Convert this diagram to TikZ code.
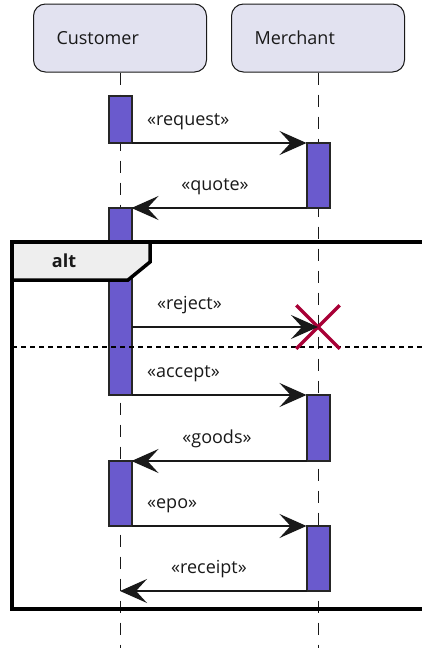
\documentclass[tikz,border=0pt]{standalone}
\usepackage{fontspec}
\setmainfont{Open Sans}
\usetikzlibrary{arrows.meta,shapes.misc}

\begin{document}
\begin{tikzpicture}
          [x = 1pt, y = -1pt,
           every node/.style = {font = \fontsize{18}{22}\selectfont, text = black!90},
           participant/.style = {draw = black!90, fill = partcolor, rounded corners = 12pt, line width = 1pt,
                                 text width = 127pt, inner xsep = 23pt, minimum height = 68pt, align = left},
           lifeline/.style = {draw = black!90, line width = 1pt, dash pattern = on 12pt off 10pt},
           activation/.style = {draw = black!85, fill = actcolor, line width = 2pt, minimum width = 23pt,
                                inner sep = 0pt, outer sep = 0pt},
           message/.style = {draw = black!90, line width = 1.6pt, -{Stealth[length = 27pt, width = 24pt, inset = 11pt]}},
           msglabel/.style = {inner sep = 0pt},
           frameline/.style = {draw = black, line width = 3.5pt},
           separator/.style = {draw = black, line width = 2pt, dash pattern = on 5pt off 4pt},
          ]

% Define diagram colors
\definecolor{partcolor}{HTML}{E2E2F0}
\definecolor{actcolor}{HTML}{6A5ACD}
\definecolor{tabcolor}{HTML}{EEEEEE}
\definecolor{destroycolor}{HTML}{A80036}

\useasboundingbox (0,0) rectangle (422,648);
\clip (0,0) rectangle (422,648);

% Participants and lifelines
  \node [participant] (customer) at (120,38) {Customer};
  \node [participant] (merchant) at (318,38) {Merchant};

  \coordinate (customer end) at (120,648);
  \coordinate (merchant end) at (318,648);
  \draw [lifeline] (customer) -- (customer end);
  \draw [lifeline] (merchant) -- (merchant end);

% Activations
  \node [activation, minimum height = 47pt]  (c1) at (120,119.5) {};
  \node [activation, minimum height = 65pt]  (m1) at (318,175.5) {};
  \node [activation, minimum height = 187pt] (c2) at (120,301.5) {};
  \node [activation, minimum height = 66pt]  (m2) at (318,428)   {};
  \node [activation, minimum height = 65pt]  (c3) at (120,493.5) {};
  \node [activation, minimum height = 65pt]  (m3) at (318,558.5) {};

% alt fragment
  \draw [frameline, fill = tabcolor] (12,242) -- (150,242) -- (150,262) -- (128,280) -- (12,280) -- cycle;
  \node [anchor = base, font = \fontsize{18}{22}\selectfont\bfseries] (alt) at (64,267) {alt};
  \draw [frameline] (12,242) rectangle (440,609);
  \draw [separator] (12,347) -- (440,347);

% Destroyed merchant
  \node [cross out, draw = destroycolor, line width = 3.5pt, minimum size = 40pt, inner sep = 0pt] (kill) at (318,327) {};

% Messages
  \draw [message] (c1.south east) -- (m1.north west);
  \draw [message] (m1.south west) -- (c2.north east);
  \draw [message] (c2.east |- kill) -- (kill.center);
  \draw [message] (c2.south east) -- (m2.north west);
  \draw [message] (m2.south west) -- (c3.north east);
  \draw [message] (c3.south east) -- (m3.north west);
  \draw [message] (m3.south west) -- (m3.south west -| customer.south);

% Message labels
  \node [msglabel, anchor = base west] (request) at (147,125.5) {«request»};
  \node [msglabel, anchor = base]      (quote)   at (215,190.5) {«quote»};
  \node [msglabel, anchor = base west] (reject)  at (157,309.5) {«reject»};
  \node [msglabel, anchor = base west] (accept)  at (147,377.5) {«accept»};
  \node [msglabel, anchor = base]      (goods)   at (217,443.5) {«goods»};
  \node [msglabel, anchor = base west] (epo)     at (147,508.5) {«epo»};
  \node [msglabel, anchor = base]      (receipt) at (209,573.5) {«receipt»};

\end{tikzpicture}
\end{document}
